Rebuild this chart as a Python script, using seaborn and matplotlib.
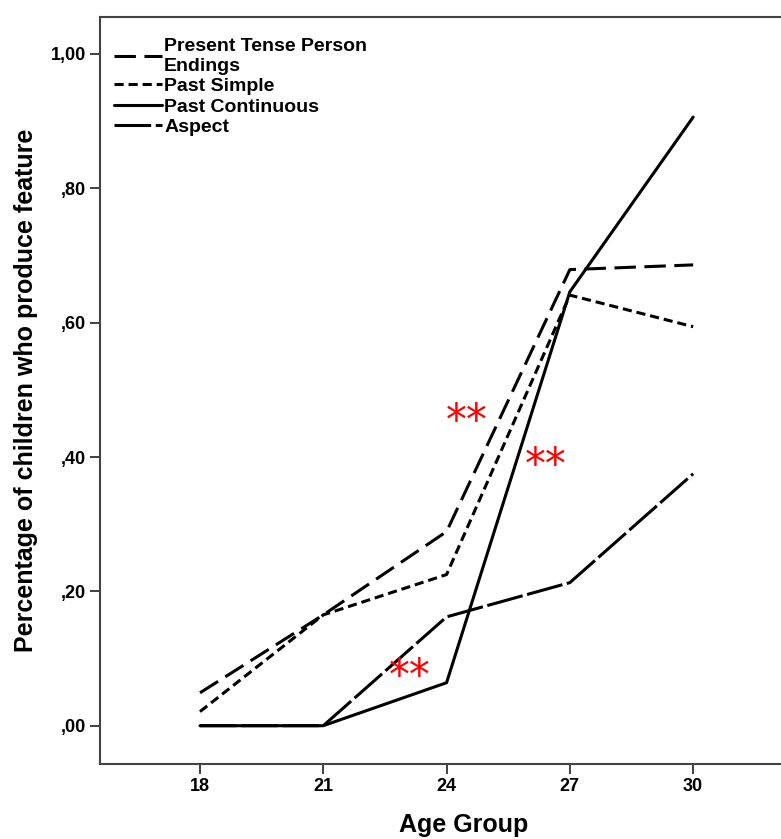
import matplotlib
matplotlib.use("Agg")
import matplotlib.pyplot as plt
import seaborn as sns
import pandas as pd
import numpy as np

ages = [18, 21, 24, 27, 30]
present_tense = [0.049, 0.165, 0.289, 0.679, 0.686]
past_simple = [0.021, 0.165, 0.225, 0.641, 0.594]
past_continuous = [0.0, 0.0, 0.064, 0.646, 0.906]
aspect = [0.0, 0.0, 0.162, 0.213, 0.375]
series_names = ["Present Tense Person\nEndings", "Past Simple", "Past Continuous", "Aspect"]
yticks = [0.0, 0.2, 0.4, 0.6, 0.8, 1.0]
ytick_labels = [",00", ",20", ",40", ",60", ",80", "1,00"]
star_x = [23.1, 24.48, 26.42]
star_y = [0.072, 0.452, 0.386]

rows = []
for name, vals in zip(series_names, [present_tense, past_simple, past_continuous, aspect]):
    for a, v in zip(ages, vals):
        rows.append({"Age": a, "Value": v, "Feature": name})
df = pd.DataFrame(rows)

sns.set_style("white")
plt.rcParams['font.family'] = ['Liberation Sans', 'DejaVu Sans']
plt.rcParams['text.color'] = 'black'
plt.rcParams['axes.labelcolor'] = 'black'
plt.rcParams['xtick.color'] = 'black'
plt.rcParams['ytick.color'] = 'black'

fig = plt.figure(figsize=(7.81, 8.39), dpi=100)
ax = fig.add_axes([0.128, 0.0894, 0.93, 0.8903])

dashes = {
    series_names[0]: (7, 2.8),
    series_names[1]: (3, 1.6),
    series_names[2]: "",
    series_names[3]: (12, 1.5),
}
sns.lineplot(data=df, x="Age", y="Value", style="Feature", dashes=dashes,
             hue="Feature", palette=["black"] * 4, linewidth=2.2, ax=ax,
             legend=True)

for sx, sy in zip(star_x, star_y):
    ax.text(sx, sy, "**", color="red", fontsize=30, ha="center", va="center",
            family="DejaVu Sans")

ax.set_xlim(15.566, 33.24)
ax.set_ylim(-0.057, 1.055)
ax.set_xticks(ages)
ax.set_xticklabels([str(a) for a in ages], fontsize=13, fontweight="bold")
ax.set_yticks(yticks)
ax.set_yticklabels(ytick_labels, fontsize=13, fontweight="bold")
ax.tick_params(axis="both", direction="out", length=7, width=1.3, color="#333333",
               bottom=True, left=True, pad=3)
for s in ["left", "top", "bottom"]:
    ax.spines[s].set_color("#444444")
    ax.spines[s].set_linewidth(1.5)
ax.spines["right"].set_visible(False)

ax.set_xlabel("Age Group", fontsize=18, fontweight="bold", labelpad=13)
ax.set_ylabel("Percentage of children who produce feature", fontsize=18,
              fontweight="bold", labelpad=9)

leg = ax.legend(loc="upper left", frameon=False,
                prop={"weight": "bold", "size": 14},
                handlelength=2.5, handletextpad=0.1, labelspacing=0.15,
                borderaxespad=0.3, bbox_to_anchor=(0.0, 0.99))
for line in leg.get_lines():
    line.set_linewidth(2.2)

fig.savefig("out.png", dpi=100)
